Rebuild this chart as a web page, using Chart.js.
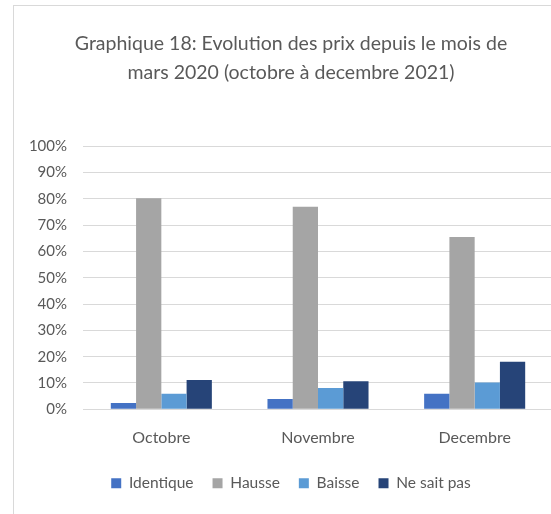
<!DOCTYPE html>
<html>
<head>
<meta charset="utf-8">
<script src="https://cdn.jsdelivr.net/npm/chart.js@4/dist/chart.umd.min.js"></script>
<style>
  html, body { margin: 0; padding: 0; background: #fff; overflow: hidden; width: 551px; height: 514px; }
  #frame { position: absolute; left: 13px; top: 5px; width: 570px; height: 530px; border: 1px solid #d9d9d9; }
  #wrap { position: absolute; left: 0; top: 6px; width: 553px; height: 524px; }
</style>
</head>
<body>
<div id="frame"></div>
<div id="wrap"><canvas id="chart"></canvas></div>
<script>
// months on the x axis
const months = ['Octobre', 'Novembre', 'Decembre'];

// share of answers, in %
const identique = [2.4, 3.9, 5.9];
const hausse = [80.2, 77.0, 65.5];
const baisse = [5.9, 8.1, 10.2];
const neSaitPas = [11.1, 10.7, 18.1];

const seriesNames = ['Identique', 'Hausse', 'Baisse', 'Ne sait pas'];
const seriesColors = ['#4472C4', '#A5A5A5', '#5B9BD5', '#264478'];

const titleLines = ['Graphique 18: Evolution des prix depuis le mois de', 'mars 2020 (octobre à decembre 2021)'];

const yMax = 100;
const yStep = 10;

const textColor = '#595959';
const fontFamily = 'Lato, "Open Sans", sans-serif';

const allSeries = [identique, hausse, baisse, neSaitPas];

const ctx = document.getElementById('chart').getContext('2d');
new Chart(ctx, {
    type: 'bar',
    data: {
        labels: months,
        datasets: allSeries.map((values, i) => ({
            label: seriesNames[i],
            data: values,
            backgroundColor: seriesColors[i],
            borderWidth: 0,
            barPercentage: 1,
            categoryPercentage: 0.645
        }))
    },
    options: {
        responsive: true,
        maintainAspectRatio: false,
        animation: false,
        layout: {
            padding: { left: 29, right: 0, top: 0, bottom: 29 }
        },
        plugins: {
            title: {
                display: true,
                text: titleLines,
                color: textColor,
                font: { family: fontFamily, size: 19.5, weight: 'normal', lineHeight: 1.49 },
                padding: { top: 23, bottom: 59 }
            },
            legend: {
                position: 'bottom',
                labels: {
                    color: textColor,
                    font: { family: fontFamily, size: 15.5 },
                    boxWidth: 10,
                    boxHeight: 10,
                    padding: 19
                }
            },
            tooltip: { enabled: false }
        },
        scales: {
            x: {
                grid: { display: false, drawTicks: false },
                border: { color: '#d9d9d9', width: 1 },
                ticks: {
                    color: textColor,
                    font: { family: fontFamily, size: 16 },
                    padding: 19
                },
                afterFit: scale => { scale.height -= 10; }
            },
            y: {
                min: 0,
                max: yMax,
                grid: { color: '#d9d9d9', lineWidth: 1, drawTicks: false },
                border: { display: false },
                ticks: {
                    stepSize: yStep,
                    color: textColor,
                    font: { family: fontFamily, size: 15 },
                    padding: 16,
                    callback: v => v + '%'
                },
                afterFit: scale => { scale.width = 54; }
            }
        }
    }
});
</script>
</body>
</html>
